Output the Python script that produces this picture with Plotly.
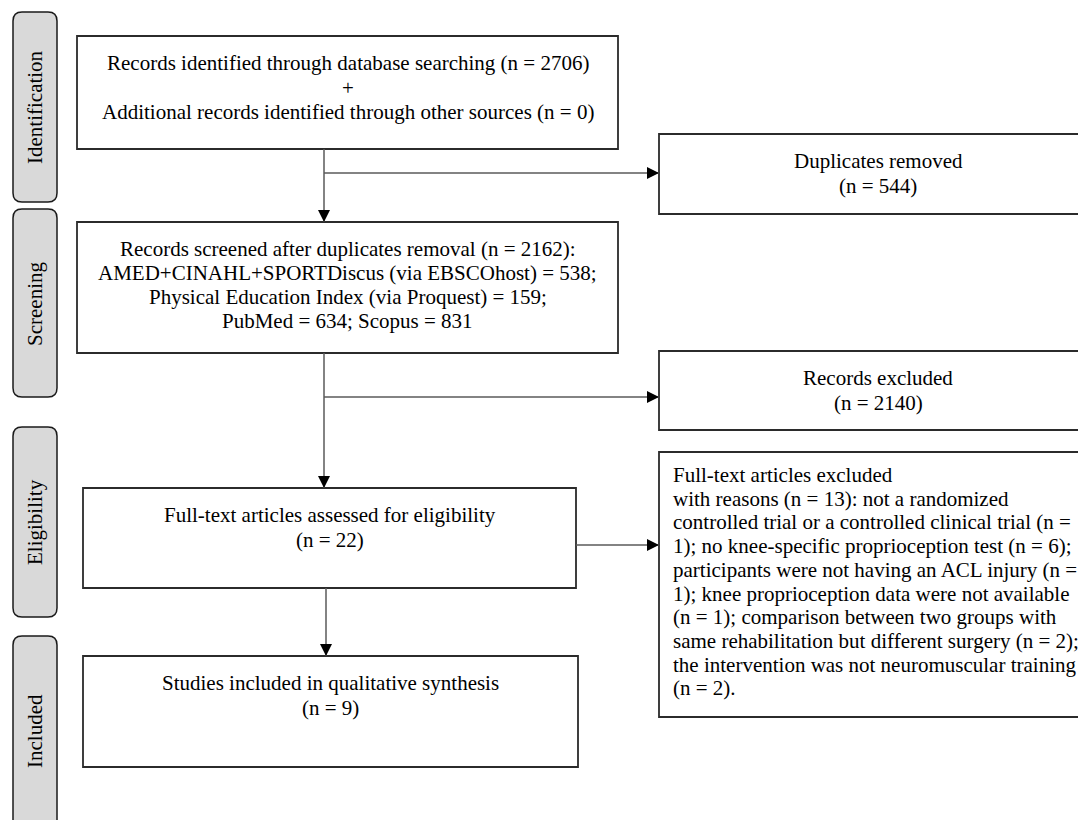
import plotly.graph_objects as go

# ---------------- data ----------------
stages = ["Identification", "Screening", "Eligibility", "Included"]
n_database = 2706
n_other = 0
n_duplicates = 544
n_screened = 2162
source_names = ["AMED+CINAHL+SPORTDiscus (via EBSCOhost)",
                "Physical Education Index (via Proquest)",
                "PubMed", "Scopus"]
source_counts = [538, 159, 634, 831]
n_records_excluded = 2140
n_fulltext = 22
n_fulltext_excluded = 13
exclusion_counts = [1, 6, 1, 1, 2, 2]
n_included = 9

# ---------------- text of each box ----------------
texts = {
    "identified": [f"Records identified through database searching (n = {n_database})",
                   "+",
                   f"Additional records identified through other sources (n = {n_other})"],
    "duplicates": ["Duplicates removed", f"(n = {n_duplicates})"],
    "screened": [f"Records screened after duplicates removal (n = {n_screened}):",
                 f"{source_names[0]} = {source_counts[0]};",
                 f"{source_names[1]} = {source_counts[1]};",
                 f"{source_names[2]} = {source_counts[2]}; {source_names[3]} = {source_counts[3]}"],
    "excluded": ["Records excluded", f"(n = {n_records_excluded})"],
    "fulltext": ["Full-text articles assessed for eligibility", f"(n = {n_fulltext})"],
    "ft_excluded": ["Full-text articles excluded",
                    f"with reasons (n = {n_fulltext_excluded}): not a randomized",
                    "controlled trial or a controlled clinical trial (n =",
                    f"{exclusion_counts[0]}); no knee-specific proprioception test (n = {exclusion_counts[1]});",
                    "participants were not having an ACL injury (n =",
                    f"{exclusion_counts[2]}); knee proprioception data were not available",
                    f"(n = {exclusion_counts[3]}); comparison between two groups with",
                    f"same rehabilitation but different surgery (n = {exclusion_counts[4]});",
                    "the intervention was not neuromuscular training",
                    f"(n = {exclusion_counts[5]})."],
    "included": ["Studies included in qualitative synthesis", f"(n = {n_included})"],
}

# ---------------- layout (page pixel positions) ----------------
WIN_W, WIN_H = 1086, 820
BODY_MARGIN = 8           # default page margin around the plot div
W, H = WIN_W - BODY_MARGIN, WIN_H - BODY_MARGIN
FONT = "Liberation Serif, Times New Roman, serif"
FS = 21

side_boxes = [(13, 57, 12, 202), (13, 57, 209, 397), (13, 57, 427, 617), (13, 57, 636, 830)]
side_label_y = [107, 304, 522, 731]

boxes = {
    "identified": dict(x0=77, x1=618, y0=36, y1=149, align="center", lh=24.5),
    "duplicates": dict(x0=659, x1=1097, y0=134, y1=214, align="center", lh=25),
    "screened": dict(x0=77, x1=618, y0=222, y1=353, align="center", lh=24),
    "excluded": dict(x0=659, x1=1097, y0=351, y1=430, align="center", lh=25),
    "fulltext": dict(x0=83, x1=576, y0=488, y1=588, align="center", lh=25),
    "ft_excluded": dict(x0=659, x1=1097, y0=452, y1=717, align="left", lh=23.7),
    "included": dict(x0=83, x1=578, y0=656, y1=767, align="center", lh=25),
}

connectors = [
    ((324, 149), (324, 222)),
    ((324, 173), (659, 173)),
    ((324, 353), (324, 488)),
    ((324, 397), (659, 397)),
    ((576, 545), (659, 545)),
    ((326, 588), (326, 656)),
]

fig = go.Figure()
shapes = []
annotations = []


def rounded_path(x0, x1, y0, y1, r=9):
    return (f"M{x0+r},{y0} L{x1-r},{y0} Q{x1},{y0} {x1},{y0+r} "
            f"L{x1},{y1-r} Q{x1},{y1} {x1-r},{y1} L{x0+r},{y1} "
            f"Q{x0},{y1} {x0},{y1-r} L{x0},{y0+r} Q{x0},{y0} {x0+r},{y0} Z")


for (x0, x1, y0, y1), label, ly in zip(side_boxes, stages, side_label_y):
    shapes.append(dict(type="path", path=rounded_path(x0, x1, y0, y1),
                       xref="x", yref="y", fillcolor="#d9d9d9",
                       line=dict(color="#1a1a1a", width=1.5), layer="below"))
    annotations.append(dict(x=(x0 + x1) / 2, y=ly, xref="x", yref="y", text=label,
                            textangle=-90, showarrow=False,
                            font=dict(family=FONT, size=FS, color="#000"),
                            xanchor="center", yanchor="middle"))

for key, b in boxes.items():
    shapes.append(dict(type="rect", x0=b["x0"], x1=b["x1"], y0=b["y0"], y1=b["y1"],
                       xref="x", yref="y", fillcolor="white",
                       line=dict(color="#2b2b2b", width=1.8), layer="below"))
    for i, line in enumerate(texts[key]):
        if b["align"] == "center":
            x, xa, y = (b["x0"] + b["x1"]) / 2, "center", b["y0"] + 27 + i * b["lh"]
        else:
            x, xa, y = b["x0"] + 12, "left", b["y0"] + 23 + i * b["lh"]
        annotations.append(dict(x=x, y=y, xref="x", yref="y", text=line, showarrow=False,
                                font=dict(family=FONT, size=FS, color="#000"),
                                xanchor=xa, yanchor="middle"))

for (sx, sy), (ex, ey) in connectors:
    shapes.append(dict(type="line", x0=sx, y0=sy, x1=ex, y1=ey, xref="x", yref="y",
                       line=dict(color="#5a5a5a", width=1.5)))
    dx = (ex - sx) and (1 if ex > sx else -1)
    dy = (ey - sy) and (1 if ey > sy else -1)
    annotations.append(dict(x=ex, y=ey, ax=ex - dx * 9, ay=ey - dy * 9,
                            xref="x", yref="y", axref="x", ayref="y", text="",
                            showarrow=True, arrowhead=2, arrowsize=1.6,
                            arrowwidth=1.5, arrowcolor="#000", standoff=0))

fig.update_layout(
    width=W, height=H, margin=dict(l=0, r=0, t=0, b=0),
    paper_bgcolor="white", plot_bgcolor="white",
    xaxis=dict(range=[BODY_MARGIN, WIN_W], visible=False, fixedrange=True),
    yaxis=dict(range=[WIN_H, BODY_MARGIN], visible=False, fixedrange=True),
    shapes=shapes, annotations=annotations, showlegend=False,
)
fig.write_html("out.html")
